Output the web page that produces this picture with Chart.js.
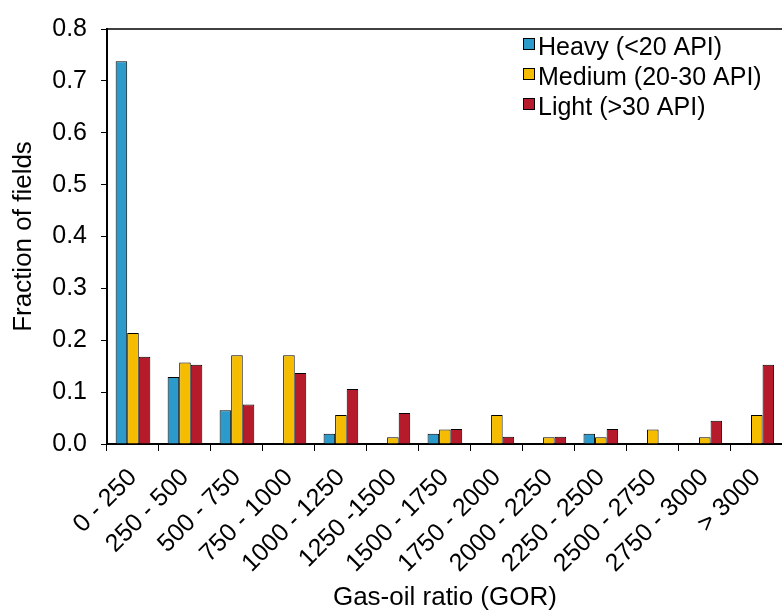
<!DOCTYPE html>
<html>
<head>
<meta charset="utf-8">
<script src="https://cdn.jsdelivr.net/npm/chart.js@4/dist/chart.umd.min.js"></script>
<style>
  html, body { margin: 0; padding: 0; background: #fff; overflow: hidden; }
  #wrap { width: 782px; height: 613px; overflow: hidden; }
</style>
</head>
<body>
<div id="wrap"><canvas id="chart" width="790" height="613"></canvas></div>
<script>
const categories = ['0 - 250', '250 - 500', '500 - 750', '750 - 1000', '1000 - 1250', '1250 -1500',
    '1500 - 1750', '1750 - 2000', '2000 - 2250', '2250 - 2500', '2500 - 2750', '2750 - 3000', '> 3000'];

const heavy  = [0.738, 0.129, 0.065, 0, 0.020, 0, 0.020, 0, 0, 0.020, 0, 0, 0];
const medium = [0.214, 0.157, 0.171, 0.171, 0.056, 0.013, 0.028, 0.056, 0.013, 0.013, 0.028, 0.013, 0.056];
const light  = [0.168, 0.153, 0.076, 0.137, 0.106, 0.060, 0.029, 0.014, 0.014, 0.029, 0, 0.045, 0.153];

const seriesNames = ['Heavy (<20 API)', 'Medium (20-30 API)', 'Light (>30 API)'];
const seriesColors = ['#2c9acb', '#f5bc00', '#b61b2b'];

const yTicks = [0, 0.1, 0.2, 0.3, 0.4, 0.5, 0.6, 0.7, 0.8];

const FONT = "'Liberation Sans', Arial, Helvetica, sans-serif";
Chart.defaults.font.family = FONT;
Chart.defaults.font.size = 25;
Chart.defaults.color = '#000';

// top frame line of the plot
const topFrame = {
    id: 'topFrame',
    afterDraw(chart) {
        const { ctx, chartArea } = chart;
        ctx.save();
        ctx.strokeStyle = '#000';
        ctx.lineWidth = 1.5;
        ctx.beginPath();
        ctx.moveTo(chartArea.left, chartArea.top);
        ctx.lineTo(chartArea.right, chartArea.top);
        ctx.stroke();
        ctx.restore();
    }
};

// legend stacked in the upper right of the plot
const boxLegend = {
    id: 'boxLegend',
    afterDraw(chart) {
        const ctx = chart.ctx;
        ctx.save();
        ctx.font = '25px ' + FONT;
        ctx.textBaseline = 'alphabetic';
        ctx.textAlign = 'left';
        chart.data.datasets.forEach((ds, i) => {
            const y = 38 + i * 30;
            ctx.fillStyle = ds.backgroundColor;
            ctx.fillRect(523, y, 12, 12);
            ctx.strokeStyle = '#000';
            ctx.lineWidth = 1;
            ctx.strokeRect(523.5, y + 0.5, 11, 11);
            ctx.fillStyle = '#000';
            ctx.fillText(ds.label, 538, y + 17);
        });
        ctx.restore();
    }
};

const datasets = [heavy, medium, light].map((values, i) => ({
    label: seriesNames[i],
    data: values,
    backgroundColor: seriesColors[i],
    borderColor: '#000',
    borderWidth: 1,
    barPercentage: 1,
    categoryPercentage: 0.667
}));

new Chart(document.getElementById('chart'), {
    type: 'bar',
    data: { labels: categories, datasets: datasets },
    options: {
        responsive: false,
        animation: false,
        layout: { padding: { top: 17, left: 0, right: 0, bottom: 0 } },
        plugins: {
            legend: { display: false },
            tooltip: { enabled: false }
        },
        scales: {
            x: {
                grid: { drawOnChartArea: false, offset: true, tickLength: 7, tickColor: '#000', lineWidth: 1 },
                border: { color: '#000', width: 2 },
                ticks: {
                    autoSkip: false,
                    minRotation: 45,
                    maxRotation: 45,
                    padding: 12,
                    font: { size: 25 }
                },
                title: {
                    display: true,
                    text: 'Gas-oil ratio (GOR)',
                    font: { size: 26 },
                    padding: { top: 0, bottom: 0 }
                },
                afterFit(scale) { scale.height = 169; }
            },
            y: {
                min: 0,
                max: 0.8,
                afterBuildTicks(scale) { scale.ticks = yTicks.map(v => ({ value: v })); },
                grid: { drawOnChartArea: false, tickLength: 6, tickColor: '#000' },
                border: { color: '#000', width: 2 },
                ticks: {
                    padding: 14,
                    font: { size: 25 },
                    callback: v => Number(v).toFixed(1)
                },
                title: {
                    display: true,
                    text: 'Fraction of fields',
                    font: { size: 26 },
                    padding: { top: 8, bottom: 0 }
                },
                afterFit(scale) { scale.width = 107; }
            }
        }
    },
    plugins: [topFrame, boxLegend]
});
</script>
</body>
</html>
